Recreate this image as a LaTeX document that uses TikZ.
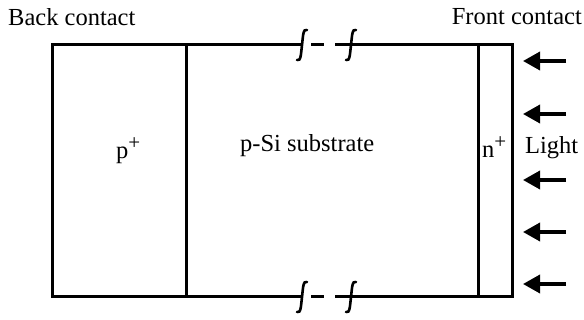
\documentclass[tikz,border=0pt]{standalone}
\usepackage{fontspec}
\setmainfont{Liberation Serif}
\usetikzlibrary{arrows.meta}
\newcommand{\supplus}{\raisebox{9pt}{\fontsize{21}{21}\selectfont +}}
\begin{document}
\begin{tikzpicture}[x=1pt,y=-1pt,
  wall/.style={line width=3pt},
  brk/.style={line width=2.6pt},
  lightarrow/.style={line width=3.5pt,-{Triangle[length=17pt,width=18pt]}},
  lbl/.style={inner sep=0pt,anchor=base west,font=\fontsize{24.5}{29}\selectfont}]
\useasboundingbox (0,0) rectangle (584,320);
% corner coordinates
\coordinate (tl) at (52,45);
\coordinate (bl) at (52,297);
\coordinate (tr) at (512,45);
\coordinate (br) at (512,297);
\coordinate (d1t) at (186,45);
\coordinate (d1b) at (186,297);
\coordinate (d2t) at (478,45);
\coordinate (d2b) at (478,297);
% break points
\coordinate (t1) at (300,45);
\coordinate (t2) at (311,45);
\coordinate (t3) at (324,45);
\coordinate (t4) at (336,45);
\coordinate (b1) at (300,297);
\coordinate (b2) at (311,297);
\coordinate (b3) at (324,297);
\coordinate (b4) at (336,297);
% outline
\draw[wall,line cap=rect] (t1) -- (tl) -- (bl) -- (b1);
\draw[wall,line cap=rect] (t4) -- (tr) -- (br) -- (b4);
\draw[wall] (t2) -- (t3);
\draw[wall] (b2) -- (b3);
\draw[wall] (d1t) -- (d1b);
\draw[wall] (d2t) -- (d2b);
% break marks (integral-like curves)
\foreach \cx/\cy in {302/45,351/45,302/297,351/297}{
  \draw[brk,line cap=round] (\cx+5,\cy-15) .. controls (\cx+1,\cy-17) and (\cx+1,\cy-8) .. (\cx,\cy)
        .. controls (\cx-1,\cy+8) and (\cx-1,\cy+17) .. (\cx-5,\cy+15);
}
% labels
\node[lbl] (back) at (8,26) {Back contact};
\node[lbl,anchor=base east] (front) at (582,25) {Front contact};
\node[lbl] (pplus) at (116,159) {p\supplus};
\node[lbl] (psi) at (240,152) {p-Si substrate};
\node[lbl] (nplus) at (482,158) {n\supplus};
\node[lbl] (light) at (525,154) {Light};
% light arrows
\foreach \i/\yy in {1/61,2/114,3/180,4/232,5/284}{
  \coordinate (s\i) at (566,\yy);
  \coordinate (e\i) at (523,\yy);
  \draw[lightarrow] (s\i) -- (e\i);
}
\end{tikzpicture}
\end{document}
